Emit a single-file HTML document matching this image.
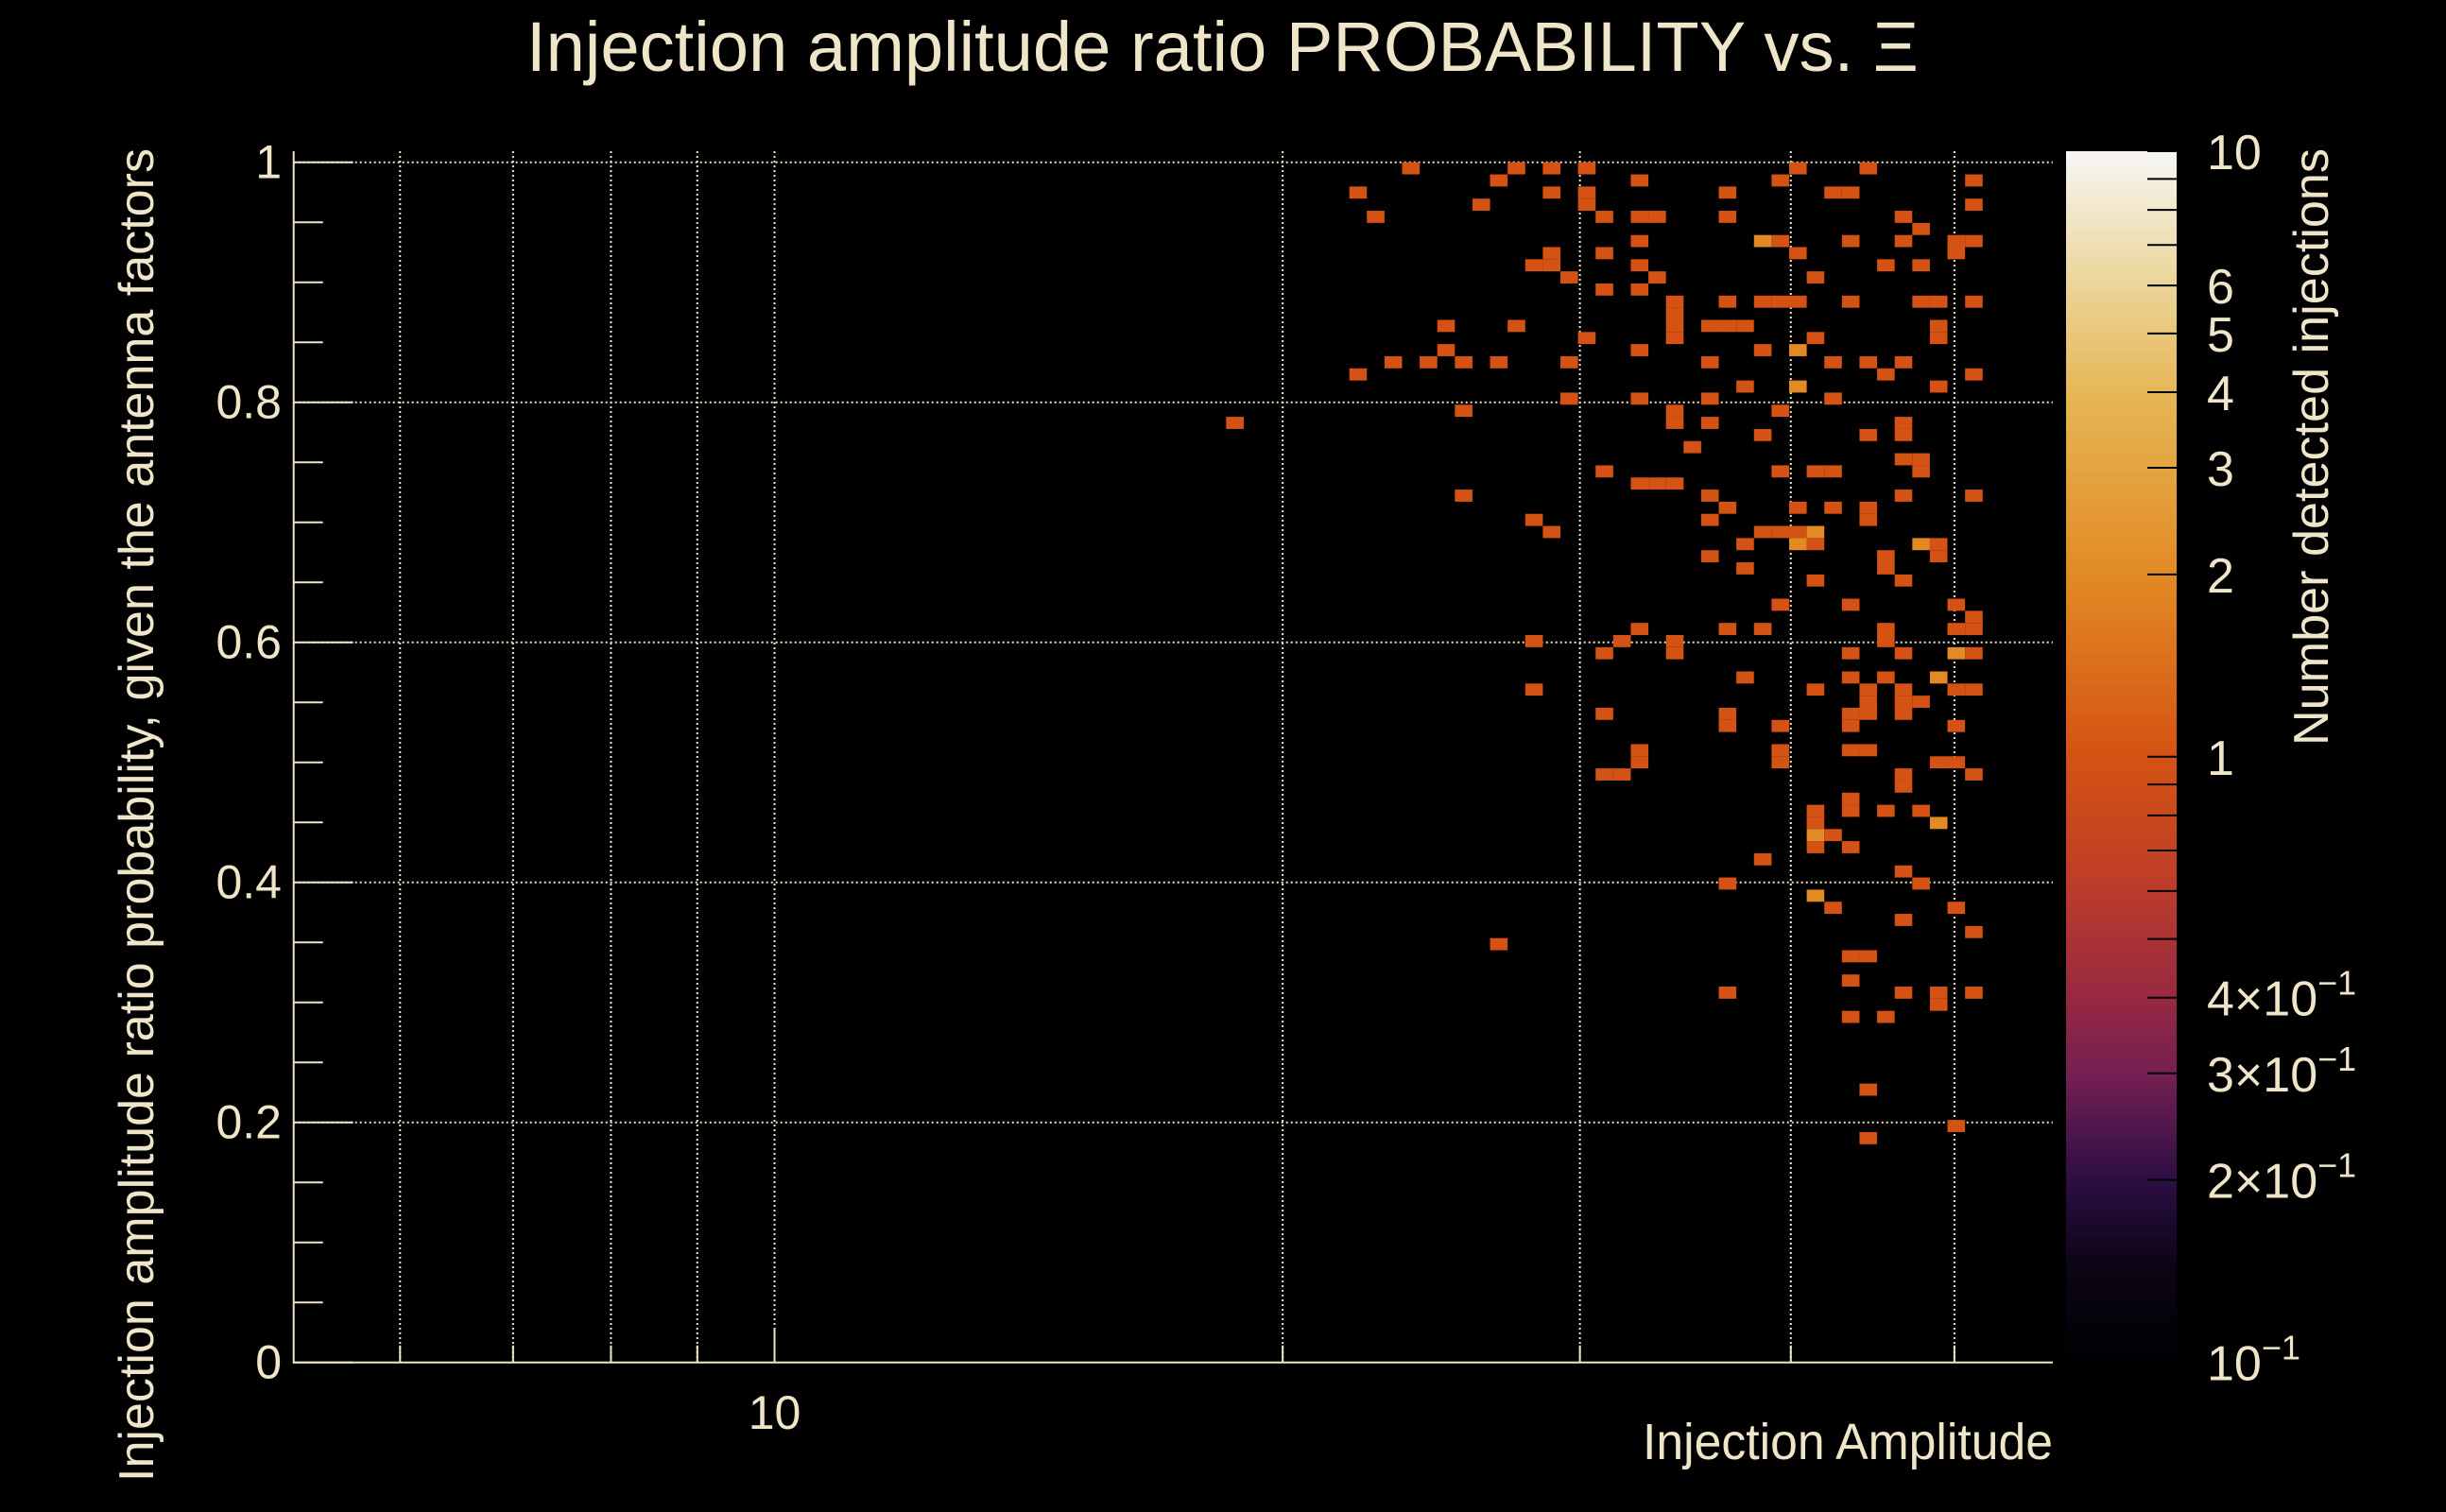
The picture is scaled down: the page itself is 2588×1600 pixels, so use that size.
<!DOCTYPE html>
<html>
<head>
<meta charset="utf-8">
<style>
  html,body{margin:0;padding:0;background:#000;}
  svg{display:block;}
  text{font-family:"Liberation Sans",sans-serif;fill:#efe5c9;}
</style>
</head>
<body>
<svg id="chart" width="2588" height="1600" viewBox="0 0 2588 1600" xmlns="http://www.w3.org/2000/svg">
  <rect x="0" y="0" width="2588" height="1600" fill="#000"/>
  <text x="557" y="75" font-size="74" textLength="1473" lengthAdjust="spacingAndGlyphs">Injection amplitude ratio PROBABILITY vs.  Ξ</text>
  <g id="grid"></g>
  <g id="cells"></g>
  <g id="axes"></g>
  <g id="colorbar"></g>
  <text x="2172" y="1544" font-size="54" text-anchor="end" textLength="434" lengthAdjust="spacingAndGlyphs">Injection Amplitude</text>
  <text transform="translate(162,157) rotate(-90)" x="0" y="0" font-size="52" text-anchor="end" textLength="1411" lengthAdjust="spacingAndGlyphs">Injection amplitude ratio probability, given the antenna factors</text>
  <text transform="translate(2463,157) rotate(-90)" x="0" y="0" font-size="52" text-anchor="end" textLength="632" lengthAdjust="spacingAndGlyphs">Number detected injections</text>
</svg>
<script>
// ---- data: histogram bins (x bin index on 100 log bins, y bin index from top on 99 bins) ----
const xBin = [
  53,
  63,69,71,73,85,89,
  68,76,84,95,
  60,71,73,81,87,88,
  67,73,95,
  61,74,76,77,81,91,
  92,
  76,83,84,88,91,94,95,
  71,74,85,94,
  70,71,76,90,92,
  72,77,86,
  74,76,
  78,81,83,84,85,88,92,93,95,
  78,
  65,69,78,80,81,82,93,
  73,78,86,93,
  65,76,83,85,
  62,64,66,68,72,80,87,89,91,
  60,90,95,
  82,85,93,
  72,76,80,87,
  66,78,84,
  78,80,91,
  83,89,91,
  79,
  91,92,
  74,84,86,87,92,
  76,77,78,
  66,80,91,95,
  81,85,87,89,
  70,80,89,
  71,83,84,85,86,
  82,85,86,92,93,
  80,90,93,
  82,90,
  86,91,
  84,88,94,
  95,
  76,81,83,90,94,95,
  70,75,78,90,
  74,78,88,91,94,95,
  82,88,90,93,
  70,86,89,91,94,95,
  89,91,92,
  74,81,88,89,91,
  81,84,88,94,
  76,84,88,89,
  76,84,93,94,
  74,75,91,95,
  91,
  88,
  86,88,90,92,
  86,93,
  86,87,
  86,88,
  83,
  91,
  81,92,
  86,
  87,94,
  91,
  95,
  68,
  88,89,
  88,
  81,91,93,95,
  93,
  88,90,
  89,
  94,
  89
];
const yBin = [
  21,
  0,0,0,0,0,0,
  1,1,1,1,
  2,2,2,2,2,2,
  3,3,3,
  4,4,4,4,4,4,
  5,
  6,6,6,6,6,6,6,
  7,7,7,7,
  8,8,8,8,8,
  9,9,9,
  10,10,
  11,11,11,11,11,11,11,11,11,
  12,
  13,13,13,13,13,13,13,
  14,14,14,14,
  15,15,15,15,
  16,16,16,16,16,16,16,16,16,
  17,17,17,
  18,18,18,
  19,19,19,19,
  20,20,20,
  21,21,21,
  22,22,22,
  23,
  24,24,
  25,25,25,25,25,
  26,26,26,
  27,27,27,27,
  28,28,28,28,
  29,29,29,
  30,30,30,30,30,
  31,31,31,31,31,
  32,32,32,
  33,33,
  34,34,
  36,36,36,
  37,
  38,38,38,38,38,38,
  39,39,39,39,
  40,40,40,40,40,40,
  42,42,42,42,
  43,43,43,43,43,43,
  44,44,44,
  45,45,45,45,45,
  46,46,46,46,
  48,48,48,48,
  49,49,49,49,
  50,50,50,50,
  51,
  52,
  53,53,53,53,
  54,54,
  55,55,
  56,56,
  57,
  58,
  59,59,
  60,
  61,61,
  62,
  63,
  64,
  65,65,
  67,
  68,68,68,68,
  69,
  70,70,
  76,
  79,
  80
];
const counts = [
  1,
  1,1,1,1,1,1,
  1,1,1,1,
  1,1,1,1,1,1,
  1,1,1,
  1,1,1,1,1,1,
  1,
  1,2,1,1,1,1,1,
  1,1,1,1,
  1,1,1,1,1,
  1,1,1,
  1,1,
  1,1,1,1,1,1,1,1,1,
  1,
  1,1,1,1,1,1,1,
  1,1,1,1,
  1,1,1,2,
  1,1,1,1,1,1,1,1,1,
  1,1,1,
  1,2,1,
  1,1,1,1,
  1,1,1,
  1,1,1,
  1,1,1,
  1,
  1,1,
  1,1,1,1,1,
  1,1,1,
  1,1,1,1,
  1,1,1,1,
  1,1,1,
  1,1,1,1,2,
  1,2,1,2,1,
  1,1,1,
  1,1,
  1,1,
  1,1,1,
  1,
  1,1,1,1,1,1,
  1,1,1,1,
  1,1,1,1,2,1,
  1,1,1,2,
  1,1,1,1,1,1,
  1,1,1,
  1,1,1,1,1,
  1,1,1,1,
  1,1,1,1,
  1,1,1,1,
  1,1,1,1,
  1,
  1,
  1,1,1,1,
  1,2,
  2,1,
  1,1,
  1,
  1,
  1,1,
  2,
  1,1,
  1,
  1,
  1,
  1,1,
  1,
  1,1,1,1,
  1,
  1,1,
  1,
  1,
  1
];
const xTickValues = [6,7,8,9,10,20,30,40,50];
const xTickLabels = ["","","","","10","","","",""];
const yTickValues = [0,0.2,0.4,0.6,0.8,1];
const yTickLabels = ["0","0.2","0.4","0.6","0.8","1"];
const cbarTickValues = [0.1,0.2,0.3,0.4,0.5,0.6,0.7,0.8,0.9,1,2,3,4,5,6,7,8,9,10];
const cbarLabelValues = [0.2,0.3,0.4,1,2,3,4,5,6,10,0.1];
const cbarLabelMant = ["2","3","4","1","2","3","4","5","6","10",""];

// ---- axis configuration ----
const xMin = 5.19, xMax = 57.2, nXBins = 100, nYBins = 99;
const plotL = 310.7, plotR = 2172, plotTop = 160, y0px = 1441.7, y1px = 171.7;
const cbL = 2186, cbR = 2303, cbTop = 160, cbBot = 1441.5;
const NS = "http://www.w3.org/2000/svg";

function X(v){ return 819.5 + 1786*(Math.log10(v) - 1); }
function Y(v){ return y0px - v*(y0px - y1px); }
function xEdge(k){ const a=Math.log10(xMin), b=Math.log10(xMax); return Math.pow(10, a + k*(b-a)/nXBins); }
function yEdge(r){ return 1 - r/nYBins; }
function CY(v){ return cbTop + (1 - (Math.log10(v)+1)/2)*(cbBot-cbTop); }

const stops = [
  [0.00,[0,0,2]],[0.08,[12,5,22]],[0.15,[44,14,68]],[0.24,[118,32,82]],
  [0.30,[150,40,66]],[0.40,[190,62,40]],[0.50,[212,82,19]],[0.65,[226,138,36]],
  [0.80,[230,182,85]],[0.90,[236,216,160]],[1.00,[246,246,244]]
];
function colorAt(f){
  f = Math.max(0, Math.min(1, f));
  for (let i=1;i<stops.length;i++){
    if (f <= stops[i][0]){
      const a=stops[i-1], b=stops[i], t=(f-a[0])/(b[0]-a[0]);
      const c=a[1].map((v,j)=>Math.round(v+(b[1][j]-v)*t));
      return "rgb("+c.join(",")+")";
    }
  }
  return "rgb(246,246,244)";
}
function countColor(c){ return colorAt((Math.log10(c)+1)/2); }
function mk(tag, attrs, parent){
  const el = document.createElementNS(NS, tag);
  for (const k in attrs) el.setAttribute(k, attrs[k]);
  parent.appendChild(el);
  return el;
}

const grid = document.getElementById("grid");
const axes = document.getElementById("axes");
const cells = document.getElementById("cells");
const cbar = document.getElementById("colorbar");
const cream = "#efe5c9";

// grid lines
xTickValues.forEach((v,i)=>{
  const g = mk("line",{x1:X(v),x2:X(v),y1:plotTop,y2:y0px,stroke:cream,"stroke-width":2,"stroke-dasharray":"2,3"},grid);
  
  
});
yTickValues.forEach((v,i)=>{
  if (v===0) return;
  const g = mk("line",{x1:plotL,x2:plotR,y1:Y(v),y2:Y(v),stroke:cream,"stroke-width":2,"stroke-dasharray":"2,3"},grid);
  
  
});

// heatmap cells
for (let i=0;i<xBin.length;i++){
  const xl = X(xEdge(xBin[i])), xr = X(xEdge(xBin[i]+1));
  const yt = Y(yEdge(yBin[i])), yb = Y(yEdge(yBin[i]+1));
  const r = mk("rect",{x:xl.toFixed(2),y:yt.toFixed(2),width:(xr-xl).toFixed(2),height:(yb-yt).toFixed(2),fill:countColor(counts[i])},cells);
  
  
}

// axes lines
const yAxis = mk("line",{x1:plotL,x2:plotL,y1:plotTop,y2:y0px+1,stroke:cream,"stroke-width":2},axes);


const xAxis = mk("line",{x1:plotL,x2:plotR,y1:y0px,y2:y0px,stroke:cream,"stroke-width":2},axes);



// y ticks (minor every 0.05)
for (let k=0;k<=20;k++){
  const v = k*0.05;
  const major = (k%4===0);
  const t = mk("line",{x1:plotL,x2:plotL+(major?63:31),y1:Y(v),y2:Y(v),stroke:cream,"stroke-width":2},axes);
  
  
}
yTickValues.forEach((v,i)=>{
  const t = mk("text",{x:298,y:Y(v)+17,"font-size":50,"text-anchor":"end"},axes);
  t.textContent = yTickLabels[i];
  
  
});
// x ticks
xTickValues.forEach((v,i)=>{
  const major = (v===10);
  const t = mk("line",{x1:X(v),x2:X(v),y1:y0px,y2:y0px-(major?35:18),stroke:cream,"stroke-width":2},axes);
  
  
  if (xTickLabels[i]){
    const l = mk("text",{x:X(v),y:1512,"font-size":50,"text-anchor":"middle"},axes);
    l.textContent = xTickLabels[i];
    
    
  }
});

// colorbar gradient strips
const nStrips = 200;
for (let s=0;s<nStrips;s++){
  const f0 = s/nStrips, f1=(s+1)/nStrips;
  const yb = cbBot - f0*(cbBot-cbTop), yt = cbBot - f1*(cbBot-cbTop);
  const r = mk("rect",{x:cbL,y:yt.toFixed(2),width:cbR-cbL,height:(yb-yt+0.6).toFixed(2),fill:colorAt((f0+f1)/2)},cbar);
  
  
}
cbarTickValues.forEach(v=>{
  const t = mk("line",{x1:cbR-31,x2:cbR,y1:CY(v),y2:CY(v),stroke:"#000","stroke-width":2},cbar);
  
  
});
cbarLabelValues.forEach((v,i)=>{
  const t = mk("text",{x:2335,y:CY(v)+19,"font-size":52},cbar);
  
  
  if (v < 1){
    if (cbarLabelMant[i]) { t.appendChild(document.createTextNode(cbarLabelMant[i] + "\u00d7")); }
    t.appendChild(document.createTextNode("10"));
    const sup = mk("tspan",{dy:-22,"font-size":36},t);
    sup.textContent = "\u22121";
  } else {
    t.textContent = cbarLabelMant[i];
  }
});
</script>
</body>
</html>
